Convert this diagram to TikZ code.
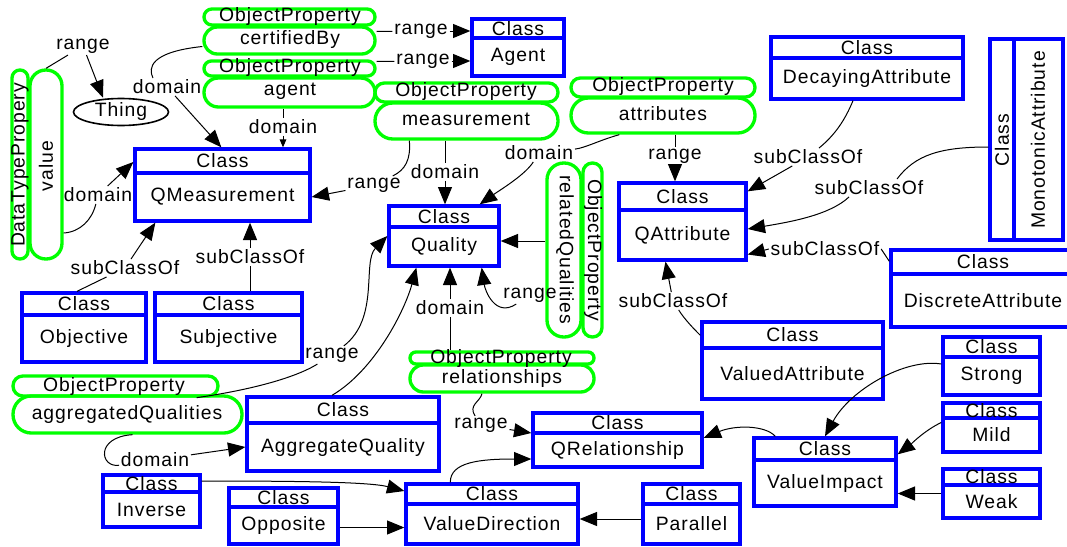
\documentclass[tikz,border=0pt]{standalone}
\usepackage{fontspec}
\setmainfont[LetterSpace=5]{Liberation Sans}
\usetikzlibrary{arrows.meta,calc,fit,shapes.geometric}
\definecolor{cblue}{RGB}{0,0,255}
\definecolor{cgreen}{RGB}{0,255,0}
\tikzset{
 cls/.style={draw=cblue, line width=2.5pt, inner sep=0pt},
 clsline/.style={draw=cblue, line width=2.5pt},
 pillst/.style={draw=cgreen, line width=2.5pt, inner sep=0pt},
 txt/.style={inner sep=0pt},
 lbl/.style={inner sep=1.2pt},
 conn/.style={line width=0.75pt},
 arr/.style={-{Triangle[length=13pt,width=10.5pt]}},
 sarr/.style={-{Triangle[length=6pt,width=5pt]}}
}
\newcommand{\ClsBox}[7]{%
 \node[cls, fit={(#2,#3) (#5,#6)}] (#1) {};
 \draw[clsline] (#2,#4) -- (#5,#4);
 \node[txt] (#1-h) at ({(#2+#5)/2},{(#3+#4)/2}) {Class};
 \node[txt] (#1-t) at ({(#2+#5)/2},{(#4+#6)/2}) {#7};
}
\newcommand{\PillBox}[5]{%
 \node[pillst, rounded corners={0.37*min(#4-#2,#5-#3)}, fit={(#2,#3) (#4,#5)}] (#1) {};
}
\begin{document}
\begin{tikzpicture}[x=0.75pt,y=-0.75pt, every node/.append style={font=\fontsize{14.5}{16}\selectfont}]
\useasboundingbox (0,0) rectangle (1067,546);
% classes
\ClsBox{qm}{135}{149}{173}{310}{221}{QMeasurement}
\ClsBox{agentcls}{472}{19}{38}{564}{76}{Agent}
\ClsBox{quality}{389}{206}{227}{499}{266}{Quality}
\ClsBox{qattr}{619}{183}{210}{746}{260}{QAttribute}
\ClsBox{decay}{771}{37}{58}{963}{99}{DecayingAttribute}
\ClsBox{discrete}{891}{250}{274}{1075}{327}{DiscreteAttribute}
\ClsBox{valued}{702}{322}{348}{883}{399}{ValuedAttribute}
\ClsBox{strong}{943}{337}{357}{1040}{395}{Strong}
\ClsBox{mild}{943}{403}{418}{1040}{452}{Mild}
\ClsBox{weak}{943}{469}{485}{1040}{518}{Weak}
\ClsBox{vimp}{754}{438}{460}{896}{506}{ValueImpact}
\ClsBox{qrel}{533}{413}{433}{702}{467}{QRelationship}
\ClsBox{vdir}{406}{484}{504}{578}{544}{ValueDirection}
\ClsBox{parallel}{643}{484}{504}{740}{544}{Parallel}
\ClsBox{aggqual}{247}{397}{423}{439}{471}{AggregateQuality}
\ClsBox{inverse}{103}{475}{492}{200}{527}{Inverse}
\ClsBox{opp}{229}{488}{507}{338}{544}{Opposite}
\ClsBox{objective}{22}{293}{315}{146}{362}{Objective}
\ClsBox{subj}{155}{293}{315}{302}{362}{Subjective}
\node[cls, fit={(990,39) (1063,240)}] (mono) {};
\draw[clsline] (1014,39) -- (1014,240);
\node[txt, rotate=90] (mono-h) at (1002,140) {Class};
\node[txt, rotate=90] (mono-t) at (1038,140) {MonotonicAttribute};
% properties
\PillBox{certOP}{204}{9}{375}{25}
\PillBox{cert}{204}{27}{375}{54}
\PillBox{agentOP}{204}{61}{375}{76}
\PillBox{agentprop}{204}{78}{375}{107}
\PillBox{measOP}{375}{83}{558}{102}
\PillBox{meas}{375}{103}{558}{139}
\PillBox{attrOP}{571}{78}{755}{97}
\PillBox{attr}{571}{98}{755}{133}
\PillBox{relOP}{410}{352}{594}{364}
\PillBox{relB}{410}{365}{594}{392}
\PillBox{aggOP}{13}{376}{218}{396}
\PillBox{aggB}{13}{396}{242}{433}
\PillBox{valueOP}{12}{70}{28}{259}
\PillBox{value}{30}{70}{62}{259}
\PillBox{related}{547}{163}{581}{337}
\PillBox{relatedOP}{583}{163}{602}{337}
\node[txt] (certOP-t) at (290,17) {ObjectProperty};
\node[txt] (cert-t) at (290,40) {certifiedBy};
\node[txt] (agentOP-t) at (290,68) {ObjectProperty};
\node[txt] (agentprop-t) at (290,91) {agent};
\node[txt] (measOP-t) at (466,92) {ObjectProperty};
\node[txt] (meas-t) at (466,119) {measurement};
\node[txt] (attrOP-t) at (663,87) {ObjectProperty};
\node[txt] (attr-t) at (663,114) {attributes};
\node[txt] (relOP-t) at (501,358) {ObjectProperty};
\node[txt] (relB-t) at (502,378) {relationships};
\node[txt] (aggOP-t) at (114,386) {ObjectProperty};
\node[txt] (aggB-t) at (127,414) {aggregatedQualities};
\node[txt, rotate=90] (valueOP-t) at (20,165) {DataTypePropery};
\node[txt, rotate=90] (value-t) at (46,166) {value};
\node[txt, rotate=-90] (related-t) at (565,250) {relatedQualities};
\node[txt, rotate=-90] (relatedOP-t) at (593,250) {ObjectProperty};
\node[ellipse, draw, line width=1.2pt, minimum width={95*0.75pt}, minimum height={27*0.75pt}, inner sep=0pt] (thing) at (121,112) {Thing};
% labels
\node[lbl] (L1) at (83,46) {range};
\node[lbl] (L2) at (98,195) {domain};
\node[lbl] (L3) at (167,87) {domain};
\node[lbl] (L4) at (421,31) {range};
\node[lbl] (L5) at (423,61) {range};
\node[lbl] (L6) at (283,127) {domain};
\node[lbl] (L7) at (374,185) {range};
\node[lbl] (L8) at (445,172) {domain};
\node[lbl] (L9) at (539,153) {domain};
\node[lbl] (L10) at (675,156) {range};
\node[lbl] (L11) at (808,157) {subClassOf};
\node[lbl] (L12) at (869,188) {subClassOf};
\node[lbl] (L13) at (825,249) {subClassOf};
\node[lbl] (L14) at (673,301) {subClassOf};
\node[lbl] (L15) at (125,268) {subClassOf};
\node[lbl] (L16) at (250,257) {subClassOf};
\node[lbl] (L17) at (530,295) {range};
\node[lbl] (L18) at (450,308) {domain};
\node[lbl] (L19) at (481,425) {range};
\node[lbl] (L20) at (332,355) {range};
\node[lbl] (L21) at (155,460) {domain};
% connectors
\draw[conn] (value.north) -- (L1);
\draw[conn,arr] (L1) -- ($(thing.north)+(-18,0)$);
\draw[conn] ($(value.east)+(0,68.5)$) .. controls (80,232) and (92,220) .. (L2);
\draw[conn,arr] (L2) -- ($(qm.west)+(0,-23)$);
\draw[conn] ($(cert.west)+(0,6)$) .. controls (150,52) and (148,68) .. ($(L3.north)+(-14,0)$);
\draw[conn,arr] (L3) -- ($(qm.north west)+(88,0)$);
\draw[conn] ($(cert.east)+(0,-9)$) -- (L4);
\draw[conn,arr] (L4) -- (L4 -| agentcls.west);
\draw[conn] ($(agentOP.east)+(0,-7)$) -- (L5);
\draw[conn,arr] (L5) -- (L5 -| agentcls.west);
\draw[conn] (L6 |- agentprop.south) -- (L6);
\draw[conn,sarr] (L6) -- (L6 |- qm.north);
\draw[conn] ($(meas.south west)+(36,0)$) .. controls (411,160) and (405,170) .. (L7);
\draw[conn,arr] (L7) -- ($(qm.east)+(0,12)$);
\draw[conn] (L8 |- meas.south) -- (L8);
\draw[conn,arr] (L8) -- (L8 |- quality.north);
\draw[conn] ($(attr.south west)+(50,0)$) .. controls (600,140) and (585,148) .. (L9);
\draw[conn,arr] (L9) .. controls (525,175) and (500,190) .. ($(quality.north east)+(-21,0)$);
\draw[conn] (L10 |- attr.south) -- (L10);
\draw[conn,arr] (L10) -- (L10 |- qattr.north);
\draw[conn] ($(decay.south)+(-14,0)$) .. controls (845,120) and (835,135) .. (L11);
\draw[conn,arr] (L11) -- ($(qattr.north east)+(0,10)$);
\draw[conn] ($(mono.west)+(0,7.5)$) .. controls (940,147) and (915,155) .. ($(L12.north)+(28,0)$);
\draw[conn,arr] ($(L12.south)+(-20,0)$) .. controls (830,215) and (790,222) .. ($(qattr.east)+(0,7.5)$);
\draw[conn] ($(discrete.north west)+(0,13)$) -- (L13.east);
\draw[conn,arr] (L13.west) -- ($(qattr.east)+(0,33)$);
\draw[conn] ($(valued.north west)+(0,15)$) .. controls (695,330) and (685,320) .. (L14);
\draw[conn,arr] (L14) -- ($(qattr.south)+(-17,0)$);
\draw[conn] ($(objective.north)+(-7,0)$) -- (L15);
\draw[conn,arr] (L15) -- ($(qm.south west)+(22,0)$);
\draw[conn] (L16 |- subj.north) -- (L16);
\draw[conn,arr] (L16) -- (L16 |- qm.south);
\draw[conn,arr] ($(related.west)+(0,-9)$) -- ($(quality.east)+(0,5)$);
\draw[conn,arr] (L17) .. controls (495,318) and (485,290) .. ($(quality.south east)+(-19,0)$);
\draw[conn] (L18 |- relOP.north) -- (L18);
\draw[conn,arr] (L18) -- (L18 |- quality.south);
\draw[conn] ($(relB.south)+(-20,0)$) .. controls (480,402) and (468,405) .. (L19);
\draw[conn,arr] (L19) -- ($(qrel.west)+(0,-7)$);
\draw[conn] ($(aggOP.south east)+(-23,0)$) .. controls (250,390) and (295,378) .. (L20);
\draw[conn,arr] (L20) .. controls (380,318) and (362,262) .. (quality.west);
\draw[conn] ($(aggB.south)+(5,0)$) .. controls (95,437) and (100,468) .. (L21);
\draw[conn,arr] (L21) -- ($(aggqual.west)+(0,13)$);
\draw[conn,arr] ($(aggqual.north)+(-11,0)$) .. controls (375,370) and (405,310) .. ($(quality.south west)+(29,0)$);
\draw[conn,arr] ($(vimp.north west)+(23,0)$) .. controls (765,425) and (735,425) .. ($(qrel.east)+(0,-2)$);
\draw[conn,arr] ($(strong.west)+(0,-2)$) .. controls (905,358) and (850,390) .. (vimp.north);
\draw[conn,arr] ($(mild.west)+(0,-5)$) .. controls (925,430) and (910,445) .. ($(vimp.north east)+(0,18)$);
\draw[conn,arr] (weak.west) -- (weak.west -| vimp.east);
\draw[conn,arr] ($(vdir.north west)+(46,0)$) .. controls (450,462) and (480,459) .. ($(qrel.west)+(0,19)$);
\draw[conn,arr] ($(inverse.east)+(0,-20)$) .. controls (300,481) and (370,482) .. ($(vdir.west)+(0,-23)$);
\draw[conn,arr] ($(opp.east)+(0,11.5)$) -- ($(vdir.west)+(0,13.5)$);
\draw[conn,arr] ($(parallel.west)+(0,5)$) -- ($(vdir.east)+(0,5)$);
\end{tikzpicture}
\end{document}
